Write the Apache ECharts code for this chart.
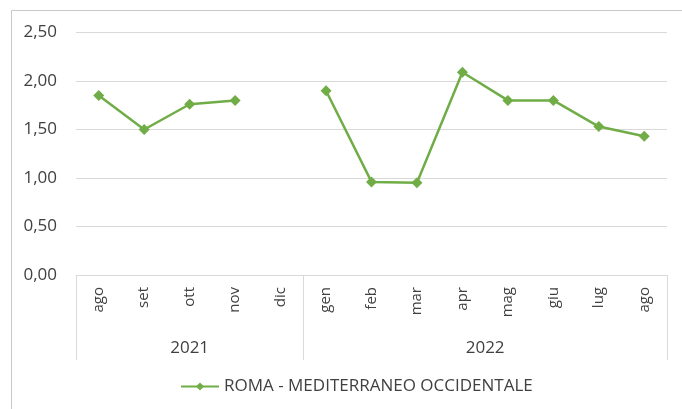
<!DOCTYPE html>
<html>
<head>
<meta charset="utf-8">
<script src="https://cdn.jsdelivr.net/npm/echarts@6/dist/echarts.min.js"></script>
<style>
html,body{margin:0;padding:0;background:#fff;}
#c{width:682px;height:409px;}
</style>
</head>
<body>
<div id="c"></div>
<script>
var months = ['ago','set','ott','nov','dic','gen','feb','mar','apr','mag','giu','lug','ago'];
var monthYears = ['2021','2021','2021','2021','2021','2022','2022','2022','2022','2022','2022','2022','2022'];
var years = ['2021','2022'];
var seriesName = 'ROMA - MEDITERRANEO OCCIDENTALE';
var values = [1.85, 1.50, 1.76, 1.80, null, 1.90, 0.96, 0.95, 2.09, 1.80, 1.80, 1.53, 1.43];
var yTicks = [0, 0.5, 1, 1.5, 2, 2.5];

// group boundaries and centres (in category units) derived from monthYears
var bounds = [0], centres = [], centreLabel = {};
years.forEach(function (y) {
  var start = monthYears.indexOf(y);
  var end = monthYears.lastIndexOf(y) + 1;
  if (bounds.indexOf(end) < 0) bounds.push(end);
  var c = (start + end) / 2;
  centres.push(c);
  centreLabel[c] = y;
});

var FONT = 'Open Sans';
var TXT = '#404040';
var GRID = '#d9d9d9';

var chart = echarts.init(document.getElementById('c'), null, {renderer: 'canvas'});
chart.setOption({
  animation: false,
  backgroundColor: '#fff',
  textStyle: {fontFamily: FONT},
  graphic: [{
    type: 'rect', silent: true, z: -1,
    shape: {x: 11.5, y: 10.5, width: 700, height: 420},
    style: {fill: 'none', stroke: '#c8c8c8', lineWidth: 1}
  }],
  grid: {left: 76, right: 15, top: 32.5, bottom: 134, containLabel: false},
  legend: {
    data: [seriesName],
    bottom: 9,
    left: 175,
    itemWidth: 38,
    itemHeight: 10,
    itemGap: 4,
    textStyle: {color: TXT, fontSize: 17, fontFamily: FONT}
  },
  xAxis: [{
    type: 'category',
    data: months,
    boundaryGap: true,
    axisLine: {show: true, lineStyle: {color: GRID, width: 1}},
    axisTick: {show: false},
    axisLabel: {rotate: 90, color: TXT, fontSize: 15, margin: 12, interval: 0, fontFamily: FONT},
    splitLine: {show: false}
  }, {
    type: 'value',
    min: 0,
    max: months.length,
    position: 'bottom',
    axisLine: {show: false},
    splitLine: {show: false},
    axisTick: {show: true, customValues: bounds, length: 85, lineStyle: {color: GRID, width: 1}},
    axisLabel: {
      show: true, customValues: centres, margin: 65, color: TXT, fontSize: 17, fontFamily: FONT,
      formatter: function (v) { return centreLabel[v] || ''; }
    }
  }],
  yAxis: {
    type: 'value',
    min: yTicks[0],
    max: yTicks[yTicks.length - 1],
    interval: yTicks[1] - yTicks[0],
    axisLine: {show: false},
    axisTick: {show: false},
    axisLabel: {
      color: TXT, fontSize: 17, margin: 19, fontFamily: FONT,
      formatter: function (v) { return v.toFixed(2).replace('.', ','); }
    },
    splitLine: {lineStyle: {color: GRID, width: 1}}
  },
  series: [{
    name: seriesName,
    type: 'line',
    xAxisIndex: 0,
    data: values,
    connectNulls: false,
    symbol: 'diamond',
    symbolSize: 11,
    color: '#70ad47',
    itemStyle: {color: '#70ad47'},
    lineStyle: {color: '#70ad47', width: 2.5}
  }]
});
</script>
</body>
</html>
